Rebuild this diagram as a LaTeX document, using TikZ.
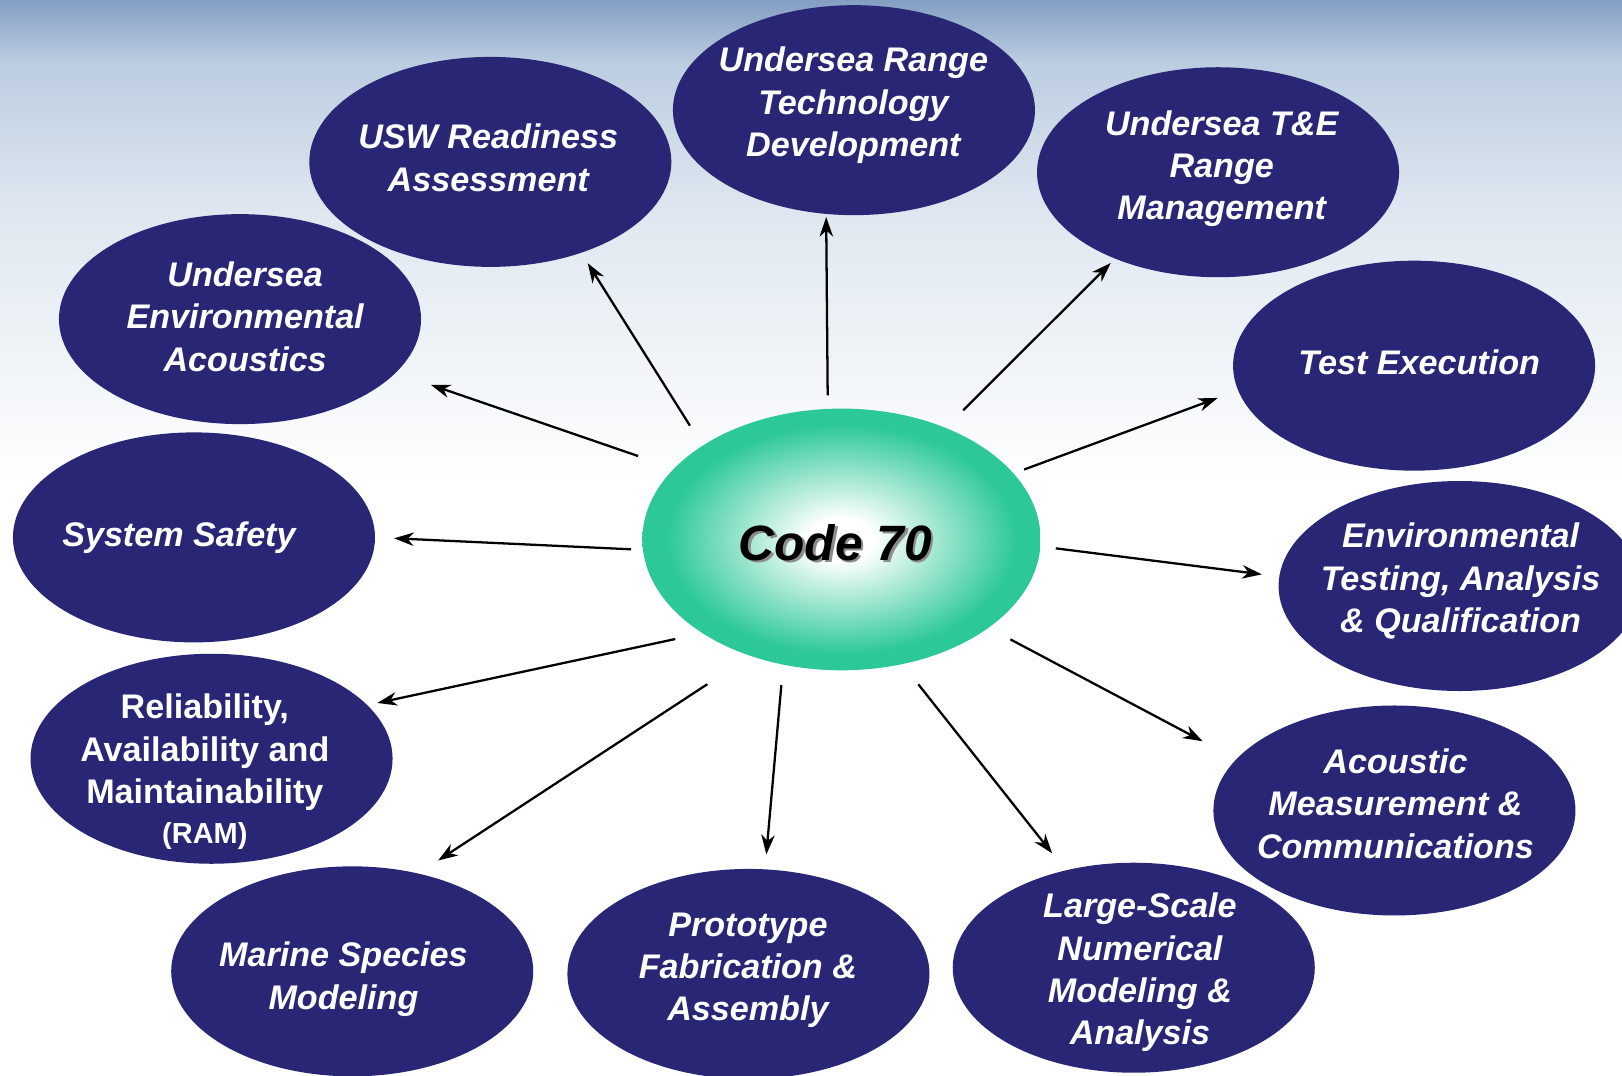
\documentclass[tikz,border=0pt]{standalone}
\usepackage{fontspec}
\setmainfont{Liberation Sans}
\usetikzlibrary{shapes.geometric,arrows.meta}
\definecolor{navy}{RGB}{41,39,117}
\definecolor{teal70}{RGB}{44,200,152}
\definecolor{bgtwo}{RGB}{222,231,240}
\definecolor{bgthree}{RGB}{188,205,225}
\definecolor{bgfour}{RGB}{132,158,195}
\pgfdeclareradialshading{cseventy}{\pgfpoint{0bp}{0bp}}{color(0bp)=(white); color(4bp)=(white); color(22bp)=(teal70); color(50bp)=(teal70)}
\tikzset{
  bub/.style={ellipse, fill=navy, minimum width=350pt, minimum height=203pt, inner sep=0pt, outer sep=0pt},
  txt/.style={text=white, font=\bfseries\itshape\fontsize{33}{41}\selectfont, align=center, inner sep=0pt},
  arr/.style={draw=black, line width=2.2pt, -{Stealth[length=19pt,width=13pt,inset=6pt]}}
}
\begin{document}
\begin{tikzpicture}[x=1pt,y=-1pt]
\useasboundingbox (0,0) rectangle (1568,1040);
\fill[white] (0,0) rectangle (1568,1040);
\shade[top color=bgfour, bottom color=bgthree] (0,0) rectangle (1568,60.5);
\shade[top color=bgthree, bottom color=bgtwo] (0,60) rectangle (1568,200.5);
\shade[top color=bgtwo, bottom color=white] (0,200) rectangle (1568,470);

% outer ellipses
\node[bub] (usw) at (474,156.5) {};
\node[bub] (rtd) at (825.5,106.5) {};
\node[bub] (tre) at (1177.5,166.5) {};
\node[bub] (uea) at (232,308.5) {};
\node[bub] (tex) at (1367,353.5) {};
\node[bub] (ssf) at (187.5,519.5) {};
\node[bub] (etq) at (1411,566.5) {};
\node[bub] (ram) at (204.5,733.5) {};
\node[bub] (amc) at (1348,783.5) {};
\node[bub] (msm) at (340.5,939) {};
\node[bub] (pfa) at (723.5,941.5) {};
\node[bub] (lsn) at (1096,935.5) {};

% central ellipse
\node[ellipse, shading=cseventy, minimum width=385pt, minimum height=253pt, inner sep=0pt, outer sep=0pt] (c70) at (813.5,521.5) {};
\node[text=black!45, font=\bfseries\itshape\fontsize{48}{56}\selectfont, inner sep=0pt] (c70s) at (810,527) {Code 70};
\node[text=black, font=\bfseries\itshape\fontsize{48}{56}\selectfont, inner sep=0pt] (c70t) at (807.5,524.5) {Code 70};

% connectors
\draw[arr, shorten <=23pt, shorten >=12pt] (c70.146) -- (usw.315);
\draw[arr, shorten <=13pt, shorten >=3pt] (c70.96) -- (rtd.255);
\draw[arr, shorten <=24pt, shorten >=6pt] (c70.47) -- (tre.220);
\draw[arr, shorten <=37pt, shorten >=36pt] (c70.157) -- (uea.341);
\draw[arr, shorten <=11pt, shorten >=21pt] (c70.21) -- (tex.188);
\draw[arr, shorten <=11.5pt, shorten >=18.5pt] (c70.183) -- (ssf.0);
\draw[arr, shorten <=15pt, shorten >=17pt] (c70.358) -- (etq.177);
\draw[arr, shorten <=27pt, shorten >=10pt] (c70.214) -- (ram.19);
\draw[arr, shorten <=24pt, shorten >=37pt] (c70.329) -- (amc.162);
\draw[arr, shorten <=50pt, shorten >=23pt] (c70.232) -- (msm.56);
\draw[arr, shorten <=20pt, shorten >=14.5pt] (c70.245) -- (pfa.81);
\draw[arr, shorten <=25pt, shorten >=21pt] (c70.296) -- (lsn.125);

% texts
\node[txt] (usw-t) at (472,152.5) {USW Readiness\\Assessment};
\node[txt] (rtd-t) at (825,102) {Undersea Range\\Technology\\Development};
\node[txt] (tre-t) at (1181,163) {Undersea T\&E\\Range\\Management};
\node[txt] (uea-t) at (237,306) {Undersea\\Environmental\\Acoustics};
\node[txt] (tex-t) at (1372,350) {Test Execution};
\node[txt] (ssf-t) at (173,520) {System Safety};
\node[txt] (etq-t) at (1412,562) {Environmental\\Testing, Analysis\\\& Qualification};
\node[txt, font=\bfseries\fontsize{33}{41}\selectfont] (ram-t) at (198,746) {Reliability,\\Availability and\\Maintainability\\[-3pt]{\fontsize{28}{34}\selectfont (RAM)}};
\node[txt] (amc-t) at (1349,777) {Acoustic\\Measurement \&\\Communications};
\node[txt] (msm-t) at (332,946.5) {Marine Species\\Modeling};
\node[txt] (pfa-t) at (723,938) {Prototype\\Fabrication \&\\Assembly};
\node[txt] (lsn-t) at (1102,940) {Large-Scale\\Numerical\\Modeling \&\\Analysis};
\end{tikzpicture}
\end{document}
